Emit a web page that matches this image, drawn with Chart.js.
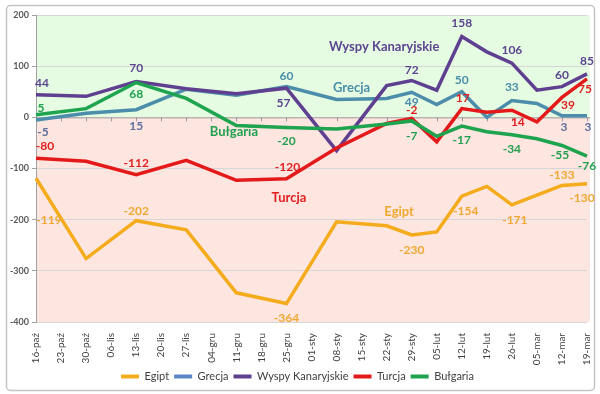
<!DOCTYPE html>
<html>
<head>
<meta charset="utf-8">
<script src="https://cdn.jsdelivr.net/npm/chart.js@4.4.1/dist/chart.umd.min.js"></script>
<style>
  html, body { margin: 0; padding: 0; background: #fff; }
  #wrap { width: 600px; height: 394px; }
</style>
</head>
<body>
<div id="wrap"><canvas id="chart"></canvas></div>
<script>
// week labels (x axis)
const weeks = ['16-paź','23-paź','30-paź','06-lis','13-lis','20-lis','27-lis','04-gru','11-gru','18-gru','25-gru',
  '01-sty','08-sty','15-sty','22-sty','29-sty','05-lut','12-lut','19-lut','26-lut','05-mar','12-mar','19-mar'];
const yTicks = [-400, -300, -200, -100, 0, 100, 200];

// values, null = no reading that week
const egipt    = [-119, null, -276, null, -202, null, -220, null, -343, null, -364, null, -204, null, -212, -230, -224, -154, -135, -171, -152, -133, -130];
const grecja   = [-5, null, 8, null, 15, null, 55, null, 43, null, 60, null, 35, null, 37, 49, 25, 50, 0, 33, 27, 3, 3];
const wyspy    = [44, null, 41, null, 70, null, 56, null, 46, null, 57, null, -65, null, 62, 72, 53, 158, 128, 106, 53, 60, 85];
const turcja   = [-80, null, -86, null, -112, null, -84, null, -123, null, -120, null, -60, null, -12, -2, -48, 17, 10, 14, -9, 39, 75];
const bulgaria = [5, null, 17, null, 68, null, 37, null, -16, null, -20, null, -23, null, -13, -7, -37, -17, -28, -34, -42, -55, -76];

const seriesNames = ['Egipt', 'Grecja', 'Wyspy Kanaryjskie', 'Turcja', 'Bułgaria'];
const lineColors = ['#F4AC1C', '#4B8DAA', '#5F3F90', '#E41A1A', '#1EA34F'];
const textColors = ['#F0A830', '#4A8FAA', '#5C4590', '#E02020', '#22A050'];

// which points carry a value label: [index, dx, dy, colour override]
const labelSpots = [
  [[0, 13, 42], [4, 0, -10], [10, 0, 15], [15, 0, 15], [17, 4, 15], [19, 3, 15], [21, 0, -10], [22, -5, 14]],
  [[0, 7, 12, '#5E6EA0'], [4, 0, 16, '#5E6EA0'], [10, 0, -11], [15, 0, 10], [17, 0, -12], [19, 0, -13], [21, 2, 11, '#5E6EA0'], [22, 1, 11, '#5E6EA0']],
  [[0, 6, -12], [4, 0, -13], [10, -3, 15], [15, 0, -10], [17, 0, -13], [19, 0, -13], [21, 0, -12], [22, 0, -13]],
  [[0, 9, -12], [4, 0, -12], [10, 1, -12], [15, 0, -8], [17, 1, -11], [19, 6, 12], [21, 6, 8], [22, -2, 10]],
  [[0, 5, -7], [4, 0, 12], [10, 0, 14], [15, 0, 15], [17, 0, 14], [19, 0, 14], [21, -2, 10], [22, 0, 10]]
];

// series names written inside the plot, anchored in data space
const nameTags = [
  ['Egipt', 14.5, -184, 0],
  ['Grecja', 12.6, 57, 1],
  ['Wyspy Kanaryjskie', 13.9, 137, 2],
  ['Turcja', 10.1, -157, 3],
  ['Bułgaria', 7.9, -29, 4]
];

const FONT = 'Lato, "Open Sans", sans-serif';

const frame = {
  id: 'frame',
  beforeDraw(chart) {
    const ctx = chart.ctx;
    const a = chart.chartArea;
    const y = chart.scales.y;
    ctx.save();
    ctx.fillStyle = '#fff';
    ctx.fillRect(0, 0, chart.width, chart.height);
    // outer border
    ctx.strokeStyle = '#C4C4C4';
    ctx.lineWidth = 1.5;
    ctx.beginPath();
    ctx.roundRect(6.5, 5.5, 588, 385, 4);
    ctx.stroke();
    // green above zero, pink below
    const z = y.getPixelForValue(0);
    ctx.fillStyle = '#E6FCE2';
    ctx.fillRect(a.left, a.top, a.right - a.left + 3, z - a.top);
    ctx.fillStyle = '#FDE5E0';
    ctx.fillRect(a.left, z, a.right - a.left + 3, a.bottom - z);
    ctx.restore();
  },
  beforeDatasetsDraw(chart) {
    const ctx = chart.ctx;
    const x = chart.scales.x;
    const z = chart.scales.y.getPixelForValue(0);
    ctx.save();
    ctx.strokeStyle = '#9A9A9A';
    ctx.lineWidth = 1;
    ctx.beginPath();
    ctx.moveTo(chart.chartArea.left, z + 0.5);
    ctx.lineTo(chart.chartArea.right + 3, z + 0.5);
    for (let i = 0; i < weeks.length; i++) {
      const px = Math.round(x.getPixelForValue(i)) + 0.5;
      ctx.moveTo(px, z);
      ctx.lineTo(px, z + 4);
    }
    ctx.stroke();
    ctx.restore();
  },
  afterDatasetsDraw(chart) {
    const ctx = chart.ctx;
    const x = chart.scales.x, y = chart.scales.y;
    ctx.save();
    ctx.textAlign = 'center';
    ctx.textBaseline = 'middle';
    ctx.font = 'bold 12px ' + FONT;
    labelSpots.forEach((spots, s) => {
      const vals = chart.data.datasets[s].data;
      spots.forEach(([i, dx, dy, col]) => {
        ctx.fillStyle = col || textColors[s];
        ctx.fillText(String(vals[i]), x.getPixelForValue(i) + dx, y.getPixelForValue(vals[i]) + dy);
      });
    });
    ctx.font = 'bold 13px ' + FONT;
    nameTags.forEach(([txt, i, v, s]) => {
      ctx.fillStyle = textColors[s];
      ctx.fillText(txt, x.getPixelForValue(i), y.getPixelForValue(v));
    });
    ctx.restore();
  }
};

const allSeries = [egipt, grecja, wyspy, turcja, bulgaria];

new Chart(document.getElementById('chart'), {
  type: 'line',
  data: {
    labels: weeks,
    datasets: allSeries.map((vals, s) => ({
      label: seriesNames[s],
      data: vals,
      borderColor: lineColors[s],
      backgroundColor: lineColors[s],
      borderWidth: 3.5,
      pointRadius: 0,
      tension: 0,
      spanGaps: true,
      order: 5 - s
    }))
  },
  options: {
    responsive: true,
    maintainAspectRatio: false,
    animation: false,
    layout: { padding: { left: 8, right: 13, top: 15, bottom: 2 } },
    scales: {
      x: {
        offset: false,
        grid: { display: false },
        border: { display: false },
        ticks: {
          autoSkip: false, maxRotation: 90, minRotation: 90,
          color: '#404040', padding: 3,
          font: { family: FONT, size: 10 }
        },
        afterFit(scale) {
          scale.height = 44;
          scale.paddingLeft = 0;
          scale.paddingRight = 0;
        }
      },
      y: {
        min: -400, max: 200,
        afterBuildTicks(scale) { scale.ticks = yTicks.map(v => ({ value: v })); },
        grid: {
          color: ctx => ctx.tick && ctx.tick.value === 0 ? 'rgba(0,0,0,0)' : '#D6D6D6',
          tickLength: 4, tickColor: '#A0A0A0'
        },
        border: { color: '#A0A0A0' },
        ticks: {
          color: '#595959', padding: 3,
          font: { family: FONT, size: 9, weight: 'bold' }
        },
        afterFit(scale) { scale.width = 28; }
      }
    },
    plugins: {
      tooltip: { enabled: false },
      legend: {
        position: 'bottom',
        labels: {
          boxWidth: 18, boxHeight: 4, padding: 5,
          color: '#404040',
          font: { family: FONT, size: 11 },
          sort: (a, b) => a.datasetIndex - b.datasetIndex,
          generateLabels(chart) {
            const items = Chart.defaults.plugins.legend.labels.generateLabels(chart);
            items.forEach(it => {
              it.lineWidth = 0;
              if (it.datasetIndex === 1) it.fillStyle = '#5B87C5';
            });
            return items;
          }
        }
      }
    }
  },
  plugins: [frame]
});
</script>
</body>
</html>
